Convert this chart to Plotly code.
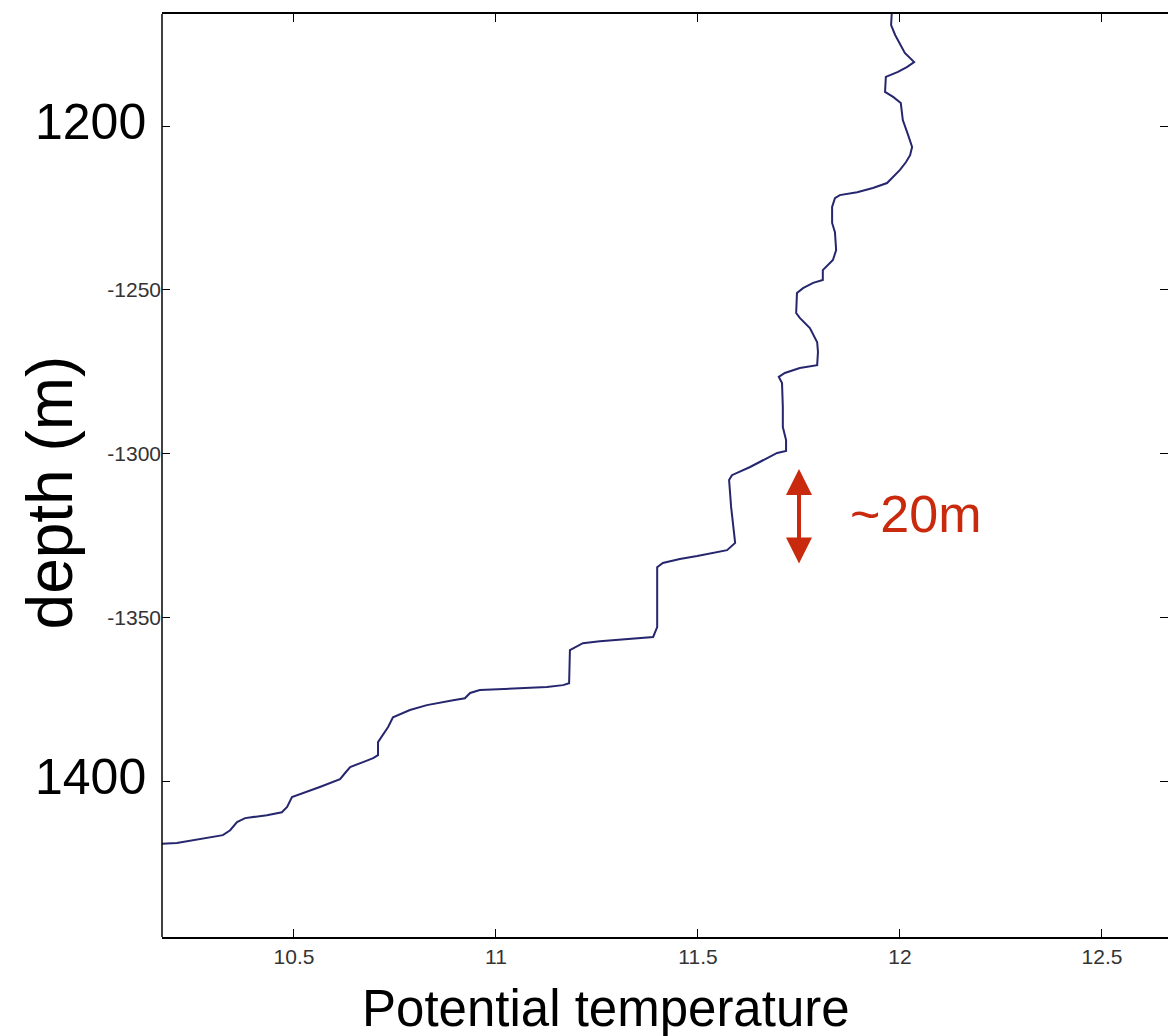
import plotly.graph_objects as go

# Potential temperature profile (deg C) against depth (m, negative downward)
temperature = [
    11.980, 11.978, 11.988, 12.005, 12.012, 12.035, 12.017, 11.995, 11.965, 11.963,
    11.983, 12.002, 12.007, 12.020, 12.030, 12.025, 12.015, 12.000, 11.968, 11.933,
    11.894, 11.851, 11.839, 11.832, 11.832, 11.839, 11.842, 11.834, 11.822, 11.809,
    11.809, 11.785, 11.760, 11.745, 11.743, 11.752, 11.777, 11.795, 11.797, 11.795,
    11.752, 11.715, 11.700, 11.708, 11.710, 11.710, 11.718, 11.718, 11.696, 11.661,
    11.629, 11.584, 11.577, 11.582, 11.587, 11.592, 11.572, 11.537, 11.498, 11.455,
    11.413, 11.399, 11.399, 11.399, 11.389, 11.356, 11.324, 11.257, 11.215, 11.183,
    11.181, 11.166, 11.126, 11.035, 10.960, 10.936, 10.923, 10.894, 10.829, 10.787,
    10.745, 10.733, 10.708, 10.708, 10.696, 10.671, 10.639, 10.626, 10.614, 10.564,
    10.527, 10.495, 10.483, 10.470, 10.433, 10.379, 10.359, 10.342, 10.324, 10.285,
    10.243, 10.210, 10.150,
]
depth = [
    -1164.6, -1169.2, -1172.2, -1175.9, -1177.7, -1180.5, -1182.0, -1183.5, -1185.0, -1189.6,
    -1191.1, -1193.0, -1198.2, -1202.7, -1206.4, -1208.9, -1211.0, -1213.4, -1217.4, -1218.9,
    -1220.2, -1221.1, -1222.0, -1224.7, -1229.6, -1232.4, -1237.9, -1240.9, -1242.4, -1244.0,
    -1247.0, -1247.9, -1249.5, -1251.0, -1257.1, -1258.6, -1261.7, -1266.0, -1269.0, -1273.0,
    -1273.9, -1275.4, -1276.6, -1278.5, -1285.8, -1291.9, -1295.9, -1299.2, -1299.8, -1302.0,
    -1304.1, -1306.6, -1308.1, -1316.3, -1322.4, -1327.3, -1329.5, -1330.4, -1331.3, -1332.2,
    -1333.4, -1334.7, -1341.7, -1353.0, -1356.0, -1356.3, -1356.6, -1357.3, -1357.9, -1360.0,
    -1370.1, -1370.7, -1371.3, -1371.9, -1372.2, -1373.1, -1374.7, -1375.3, -1376.8, -1378.3,
    -1380.5, -1383.5, -1388.1, -1392.1, -1393.0, -1394.2, -1395.7, -1397.6, -1399.4, -1401.8,
    -1403.4, -1404.9, -1407.9, -1409.5, -1410.4, -1411.3, -1412.5, -1415.0, -1416.5, -1417.4,
    -1418.3, -1418.9, -1419.3,
]

x_ticks = [10.5, 11, 11.5, 12, 12.5]
x_tick_text = ["10.5", "11", "11.5", "12", "12.5"]
y_ticks = [-1200, -1250, -1300, -1350, -1400]
y_tick_text = ["", "-1250", "-1300", "-1350", ""]

# Large depth labels written over the axis
big_depth_labels = {-1200: "1200", -1400: "1400"}

# Step-height marker
step_x = 11.75
step_top = -1304.7
step_bottom = -1334.0
step_label = "~20m"

RED = "#c92a0d"
SANS = "Helvetica Neue, Liberation Sans, Arial, sans-serif"
TICK_FONT = dict(family="Liberation Sans, Arial, sans-serif", size=21, color="#333333")

fig = go.Figure()
fig.add_trace(go.Scatter(
    x=temperature, y=depth, mode="lines",
    line=dict(color="#26266e", width=2),
    hoverinfo="skip", showlegend=False,
))

fig.update_layout(
    width=1168, height=1036,
    margin=dict(l=162, r=0, t=14, b=99),
    paper_bgcolor="white", plot_bgcolor="white",
    showlegend=False,
    xaxis=dict(
        range=[10.1733, 12.6634],
        tickvals=x_ticks, ticktext=x_tick_text,
        ticks="inside", ticklen=8, tickwidth=1.2, tickcolor="black",
        showline=True, linecolor="black", linewidth=1.5, mirror="ticks",
        showgrid=False, zeroline=False,
        tickfont=TICK_FONT,
    ),
    yaxis=dict(
        range=[-1447.6, -1165.8],
        tickvals=y_ticks, ticktext=y_tick_text,
        ticks="inside", ticklen=8, tickwidth=1.2, tickcolor="black",
        showline=False, mirror="ticks",
        showgrid=False, zeroline=False,
        tickfont=TICK_FONT,
        ticklabelstandoff=0,
    ),
    shapes=[dict(type="line", xref="paper", yref="paper", x0=0, x1=0, y0=0, y1=1,
                 line=dict(color="black", width=1.5))],
)

for yv, txt in big_depth_labels.items():
    fig.add_annotation(
        x=0, xref="paper", y=yv, yref="y", text=txt, showarrow=False,
        xanchor="right", yanchor="middle", xshift=-14, yshift=4,
        font=dict(family=SANS, size=50, color="black"),
    )

# Axis titles
fig.add_annotation(
    x=-0.111, xref="paper", y=0.482, yref="paper", text="depth (m)", showarrow=False,
    textangle=-90, xanchor="center", yanchor="middle",
    font=dict(family=SANS, size=64, color="black"),
)
fig.add_annotation(
    x=0.4414, xref="paper", y=-0.0775, yref="paper", text="Potential temperature",
    showarrow=False, xanchor="center", yanchor="middle",
    font=dict(family=SANS, size=51, color="black"),
)

# Double-headed arrow and label
fig.add_annotation(
    x=step_x, y=step_top, ax=step_x, ay=step_bottom, xref="x", yref="y",
    axref="x", ayref="y", text="", showarrow=True,
    arrowhead=2, startarrowhead=2, arrowside="end+start",
    arrowwidth=4, arrowsize=1.3, startarrowsize=1.3, arrowcolor=RED,
)
fig.add_annotation(
    x=11.871, y=-1319.7, xref="x", yref="y", text=step_label, showarrow=False,
    xanchor="left", yanchor="middle", yshift=4,
    font=dict(family=SANS, size=52, color=RED),
)

fig.write_html("out.html")
